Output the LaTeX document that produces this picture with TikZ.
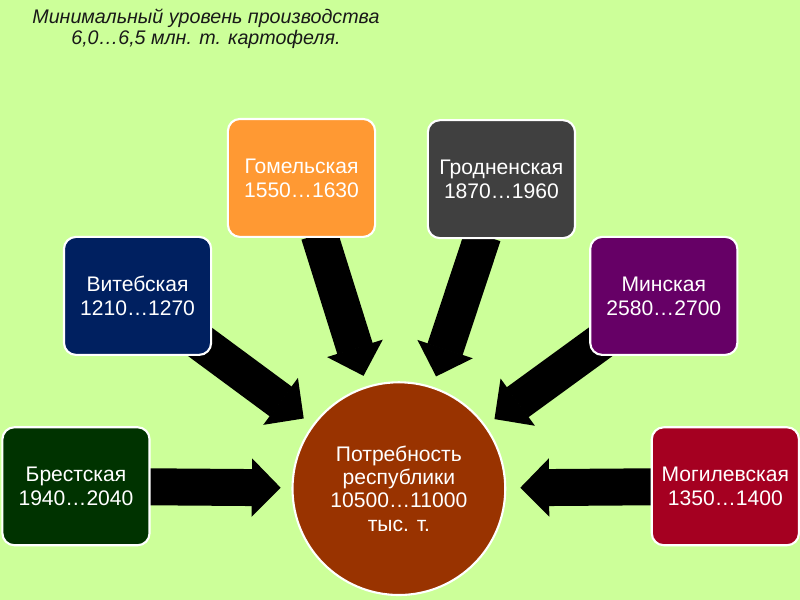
\documentclass[tikz,border=0pt]{standalone}
\usepackage{fontspec}
\setmainfont{Liberation Sans}
\usetikzlibrary{arrows.meta}

\definecolor{paper}{RGB}{204,255,153}
\definecolor{brestgreen}{RGB}{0,51,0}
\definecolor{vitebskblue}{RGB}{0,32,96}
\definecolor{gomelorange}{RGB}{255,153,51}
\definecolor{grodnogray}{RGB}{64,64,64}
\definecolor{minskpurple}{RGB}{102,0,102}
\definecolor{mogilevred}{RGB}{165,0,33}
\definecolor{needbrown}{RGB}{153,51,0}

\pgfdeclarelayer{canvas}
\pgfdeclarelayer{arrowlayer}
\pgfsetlayers{canvas,arrowlayer,main}

\begin{document}
\begin{tikzpicture}[
        region/.style={rectangle, rounded corners=0.3cm, draw=white, line width=1.5pt,
            minimum width=3.68cm, minimum height=2.95cm, inner sep=2pt,
            text=white, align=center, font=\fontsize{15}{17}\selectfont},
        need/.style={circle, draw=white, line width=1.5pt, fill=needbrown,
            minimum size=5.32cm, inner sep=0pt, text=white, align=center,
            font=\fontsize{15}{16.6}\selectfont},
        flow/.style={line width=0.925cm, shorten >=0.27cm,
            -{Triangle[length=0.72cm, width=1.45cm, line width=1.5pt]}}
    ]
        % фон
        \begin{pgfonlayer}{canvas}
            \fill[paper] (0,0) rectangle (20,15);
        \end{pgfonlayer}

        % заголовок
        \node[align=center, text=black!90, font=\fontsize{14}{15.6}\selectfont\itshape]
            (title) at (5.15,14.28) {Минимальный уровень производства\\6,0…6,5 млн. т. картофеля.};

        % потребность республики
        \node[need] (need) at (9.975,2.78) {Потребность\\республики\\10500…11000\\тыс. т.};

        % области
        \node[region, fill=brestgreen] (brest) at (1.9,2.84) {Брестская\\1940…2040};
        \node[region, fill=vitebskblue] (vitebsk) at (3.44,7.6) {Витебская\\1210…1270};
        \node[region, fill=gomelorange] (gomel) at (7.54,10.55) {Гомельская\\1550…1630};
        \node[region, fill=grodnogray] (grodno) at (12.54,10.52) {Гродненская\\1870…1960};
        \node[region, fill=minskpurple] (minsk) at (16.6,7.6) {Минская\\2580…2700};
        \node[region, fill=mogilevred] (mogilev) at (18.14,2.84) {Могилевская\\1350…1400};

        % стрелки к центру
        \begin{pgfonlayer}{arrowlayer}
            \draw[flow, shorten <=-0.05cm] (brest) -- (need);
            \draw[flow, shorten <=-0.5cm] (vitebsk) -- (need);
            \draw[flow, shorten <=-0.1cm] (gomel) -- (need);
            \draw[flow, shorten <=-0.1cm] (grodno) -- (need);
            \draw[flow, shorten <=-0.5cm] (minsk) -- (need);
            \draw[flow, shorten <=-0.05cm, shorten >=0.35cm] (mogilev) -- (need);
        \end{pgfonlayer}
    \end{tikzpicture}
\end{document}
